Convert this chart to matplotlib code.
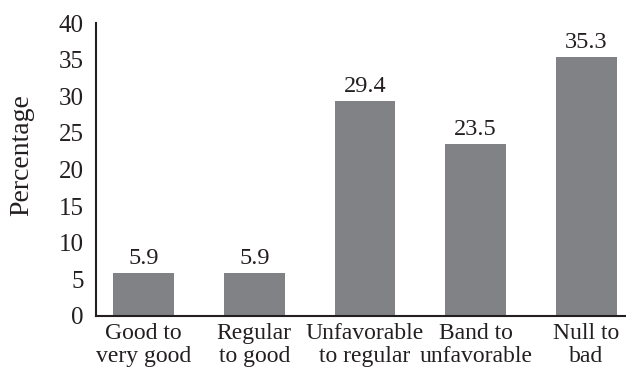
import matplotlib
matplotlib.use("Agg")
import matplotlib.pyplot as plt

categories = ["Good to\nvery good", "Regular\nto good", "Unfavorable\nto regular", "Band to\nunfavorable", "Null to\nbad"]
values = [5.9, 5.9, 29.4, 23.5, 35.3]
yticks = [0, 5, 10, 15, 20, 25, 30, 35, 40]

plt.rcParams['font.family'] = ['Liberation Serif', 'DejaVu Serif']
TXT = '#231f20'

fig = plt.figure(figsize=(6.26, 3.74), dpi=100)
ax = fig.add_axes([0.1534, 0.1551, 0.8466, 0.7834])
x = list(range(len(categories)))
ax.bar(x, values, width=0.55, color='#818285')
for xi, v in zip(x, values):
    ax.annotate(f"{v}", (xi, v), xytext=(0, 6.5), textcoords='offset points',
                ha='center', va='baseline', fontsize=17.5, color=TXT)
ax.set_xlim(-0.429, 4.357)
ax.set_ylim(0, 40)
ax.set_yticks(yticks)
ax.set_xticks(x)
ax.set_xticklabels(categories, fontsize=17, color=TXT, linespacing=1.12)
ax.tick_params(axis='both', length=0, colors=TXT)
ax.tick_params(axis='y', pad=9, labelsize=18)
ax.tick_params(axis='x', pad=5)
for s in ['top', 'right']:
    ax.spines[s].set_visible(False)
for s in ['left', 'bottom']:
    ax.spines[s].set_color(TXT)
    ax.spines[s].set_linewidth(1.5)
ax.set_ylabel("Percentage", fontsize=20, color=TXT)
ax.yaxis.set_label_coords(-0.117, 0.55)
fig.savefig("out.png", dpi=100)
